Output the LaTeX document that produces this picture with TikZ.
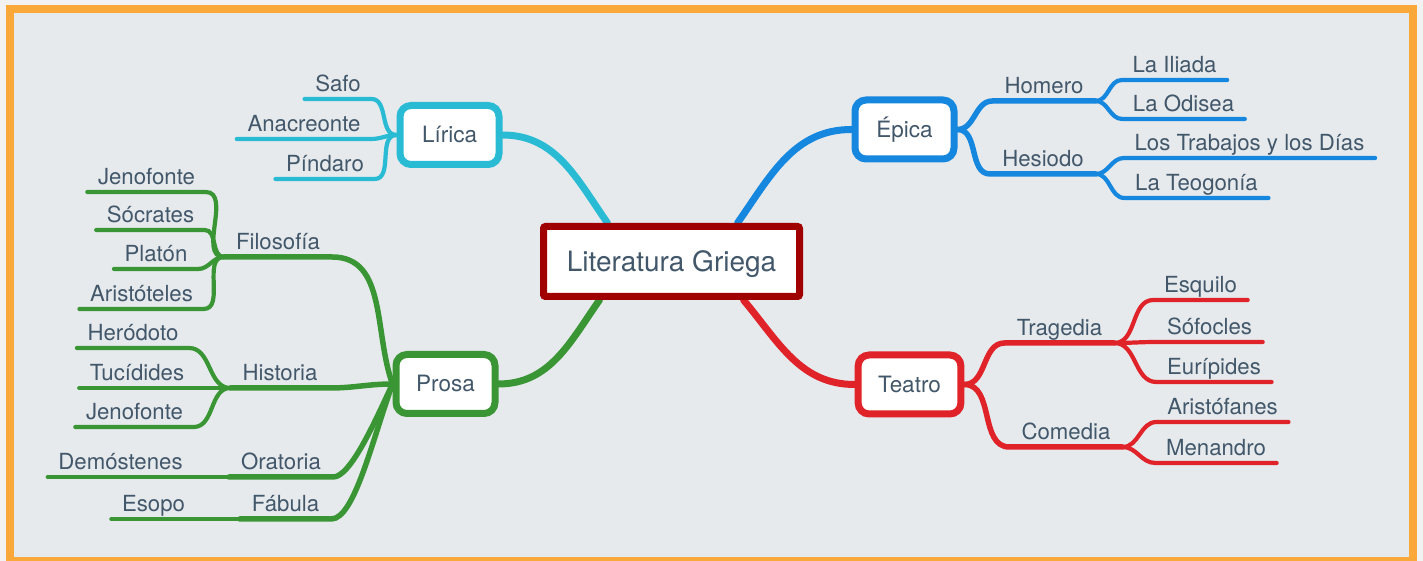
\documentclass[tikz,border=0pt]{standalone}
\usepackage{fontspec}
\setmainfont{TeX Gyre Heros}
\usepackage{tikz}
\definecolor{cMarco}{HTML}{FBA83B}
\definecolor{cFondo}{HTML}{E6EAED}
\definecolor{cLetra}{HTML}{42576A}
\definecolor{cLirica}{HTML}{29BBD4}
\definecolor{cEpica}{HTML}{1687DE}
\definecolor{cProsa}{HTML}{3A9634}
\definecolor{cTeatro}{HTML}{E02229}
\definecolor{cRaiz}{HTML}{A00000}
\pgfdeclarelayer{back}
\pgfdeclarelayer{links}
\pgfsetlayers{back,links,main}

\begin{document}
\begin{tikzpicture}[x=1pt, y=1pt, text=cLetra,
	raiz/.style={draw=cRaiz, fill=white, line width=7pt, rounded corners=2pt, minimum width=256pt, minimum height=70pt, text height=20pt, text depth=0pt, font=\fontsize{28}{32}\selectfont},
	rama/.style={draw=#1, fill=white, line width=7pt, rounded corners=11pt, minimum width=99pt, minimum height=59pt, inner xsep=20pt, text height=15.5pt, text depth=0pt, font=\fontsize{22.5}{26}\selectfont},
	tema/.style={anchor=south, inner xsep=12pt, inner ysep=3pt, text height=16pt, text depth=4pt, font=\fontsize{22.2}{25}\selectfont},
	hoja/.style={tema, inner xsep=10.5pt},
	grueso/.style={line width=7pt, line cap=round},
	medio/.style={line width=5.5pt, line cap=round},
	fino/.style={line width=4.2pt, line cap=round}]
	\useasboundingbox (0,0) rectangle (1423,561);
	\begin{pgfonlayer}{back}
		\fill[white!95!black] (0,0) rectangle (1423,561);
		\draw[cMarco, line width=8pt, fill=cFondo] (9.5,0) rectangle (1412.5,552);
	\end{pgfonlayer}

	\node[raiz] (griega) at (671.5,299.5) {Literatura Griega};
	\node[rama=cLirica] (lirica) at (449.5,426) {Lírica};
	\node[rama=cEpica] (epica) at (904.5,431.5) {Épica};
	\node[rama=cProsa] (prosa) at (445.5,177) {Prosa};
	\node[rama=cTeatro] (teatro) at (909.5,176.5) {Teatro};

	\node[tema] (homero) at (1044,460) {Homero};
	\node[tema] (hesiodo) at (1043,387) {Hesiodo};
	\node[tema] (tragedia) at (1059.5,218) {Tragedia};
	\node[tema] (comedia) at (1066,114) {Comedia};
	\node[tema] (filosofia) at (278,304) {Filosofía};
	\node[tema] (historia) at (280,173) {Historia};
	\node[tema] (oratoria) at (281,84) {Oratoria};
	\node[tema] (fabula) at (285.5,42) {Fábula};

	\foreach \n/\x/\y/\t in {iliada/1174.5/481/La Iliada, odisea/1183.5/442/La Odisea,
		trabajos/1249.5/403/Los Trabajos y los Días, teogonia/1196.5/363/La Teogonía,
		esquilo/1200.5/261/Esquilo, sofocles/1209.5/219/Sófocles, euripides/1214/179/Eurípides,
		aristofanes/1222.5/139/Aristófanes, menandro/1216/98/Menandro,
		safo/338/462/Safo, anacreonte/304/422/Anacreonte, pindaro/325/382/Píndaro,
		jenofonteA/146.5/369/Jenofonte, socrates/150.5/331/Sócrates, platon/156/292/Platón,
		aristoteles/141.5/252/Aristóteles, herodoto/133/213/Heródoto, tucidides/137/173/Tucídides,
		jenofonteB/134.5/134/Jenofonte, demostenes/120.5/84/Demóstenes, esopo/153.5/42/Esopo}
		\node[hoja] (\n) at (\x,\y) {\t};

	\begin{pgfonlayer}{links}
		% ramas principales
		\draw[grueso, cLirica] ([xshift=-64pt]griega.north) to[out=125,in=0] (lirica.east);
		\draw[grueso, cEpica] ([xshift=66pt]griega.north) to[out=55,in=180] (epica.west);
		\draw[grueso, cProsa] ([xshift=-72pt]griega.south) to[out=235,in=0] (prosa.east);
		\draw[grueso, cTeatro] ([xshift=72pt]griega.south) to[out=-50,in=180] (teatro.west);
		% derecha
		\foreach \c in {homero,hesiodo}
			\draw[medio, cEpica] (epica.east) to[out=0,in=180] (\c.south west) -- (\c.south east);
		\foreach \c in {tragedia,comedia}
			\draw[medio, cTeatro] (teatro.east) to[out=0,in=180] (\c.south west) -- (\c.south east);
		\foreach \p/\c in {homero/iliada, homero/odisea, hesiodo/trabajos, hesiodo/teogonia}
			\draw[fino, cEpica] (\p.south east) to[out=0,in=180] (\c.south west) -- (\c.south east);
		\foreach \p/\c in {tragedia/esquilo, tragedia/sofocles, tragedia/euripides, comedia/aristofanes, comedia/menandro}
			\draw[fino, cTeatro] (\p.south east) to[out=0,in=180] (\c.south west) -- (\c.south east);
		% izquierda
		\foreach \c in {safo,anacreonte,pindaro}
			\draw[fino, cLirica] (lirica.west) to[out=180,in=0] (\c.south east) -- (\c.south west);
		\draw[medio, cProsa] (prosa.west) to[out=110,in=0] (filosofia.south east) -- (filosofia.south west);
		\draw[medio, cProsa] (prosa.west) to[out=180,in=0] (historia.south east) -- (historia.south west);
		\draw[medio, cProsa] (prosa.west) to[out=245,in=0,in looseness=0.4] (oratoria.south east) -- (oratoria.south west);
		\draw[medio, cProsa] (prosa.west) to[out=250,in=0,in looseness=0.4] (fabula.south east) -- (fabula.south west);
		\foreach \p/\c in {filosofia/jenofonteA, filosofia/socrates, filosofia/platon, filosofia/aristoteles,
			historia/herodoto, historia/tucidides, historia/jenofonteB}
			\draw[fino, cProsa] (\p.south west) to[out=180,in=0] (\c.south east) -- (\c.south west);
		\draw[fino, cProsa] (oratoria.south west) -- (demostenes.south east) -- (demostenes.south west);
		\draw[fino, cProsa] (fabula.south west) -- (esopo.south east) -- (esopo.south west);
	\end{pgfonlayer}
\end{tikzpicture}
\end{document}
